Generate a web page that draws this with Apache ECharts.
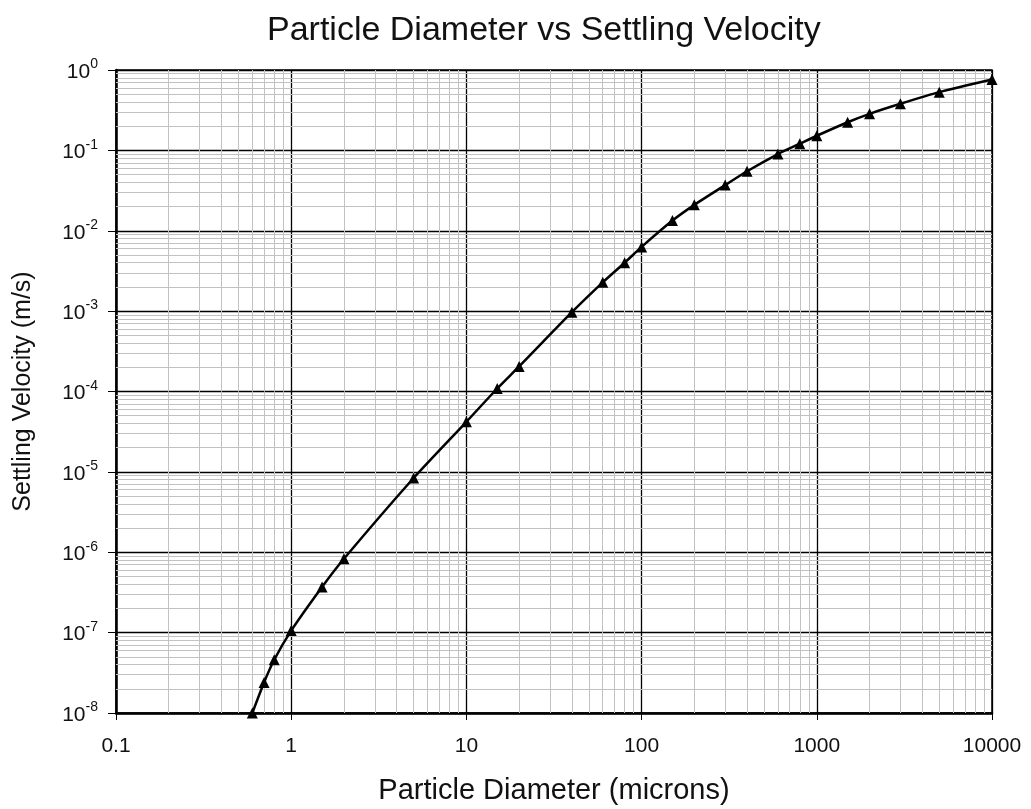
<!DOCTYPE html>
<html>
<head>
<meta charset="utf-8">
<script src="https://cdn.jsdelivr.net/npm/echarts@6/dist/echarts.min.js"></script>
<style>
  html, body { margin: 0; padding: 0; background: #fff; }
  #chart { width: 1031px; height: 809px; }
</style>
</head>
<body>
<div id="chart"></div>
<script>
// particle diameter (microns)
var diameters = [0.6, 0.7, 0.8, 1, 1.5, 2, 5, 10, 15, 20, 40, 60, 80, 100, 150, 200,
                 300, 400, 600, 800, 1000, 1500, 2000, 3000, 5000, 10000];
// settling velocity (m/s)
var velocities = [1e-8, 2.4e-8, 4.6e-8, 1.06e-7, 3.7e-7, 8.3e-7, 8.4e-6, 4.2e-5, 1.09e-4,
                  2.05e-4, 9.7e-4, 2.28e-3, 4.0e-3, 6.3e-3, 1.34e-2, 2.1e-2, 3.7e-2, 5.5e-2,
                  9.0e-2, 0.121, 0.152, 0.224, 0.285, 0.38, 0.53, 0.76];
// decade starts used for the log minor grid (2..9 x decade)
var xDecades = [0.1, 1, 10, 100, 1000];
var yDecades = [1e-8, 1e-7, 1e-6, 1e-5, 1e-4, 1e-3, 1e-2, 1e-1];

var FONT = 'Liberation Sans';

var points = diameters.map(function (d, i) { return [d, velocities[i]]; });

// minor grid lines at 2..9 of every decade (echarts' own minorSplitLine is linear in log space)
var minorLines = [];
xDecades.forEach(function (d) {
  for (var m = 2; m <= 9; m++) minorLines.push({ xAxis: +(m * d).toPrecision(3) });
});
yDecades.forEach(function (d) {
  for (var m = 2; m <= 9; m++) minorLines.push({ yAxis: +(m * d).toPrecision(3) });
});

var myChart = echarts.init(document.getElementById('chart'));
var option = {
  animation: false,
  backgroundColor: '#fff',
  title: {
    text: 'Particle Diameter vs Settling Velocity',
    left: 262,
    top: 9,
    textStyle: { fontFamily: FONT, fontSize: 34, fontWeight: 'normal', color: '#111' }
  },
  grid: {
    left: 116, right: 39, top: 70, bottom: 96,
    outerBoundsMode: 'none',
    containLabel: false,
    show: true, borderColor: '#000', borderWidth: 1.5
  },
  xAxis: {
    type: 'log',
    logBase: 10,
    min: 0.1,
    max: 10000,
    interval: 1,
    z: 3,
    name: 'Particle Diameter (microns)',
    nameLocation: 'middle',
    nameGap: 63,
    nameTextStyle: { fontFamily: FONT, fontSize: 29, color: '#111' },
    axisLine: { lineStyle: { color: '#000', width: 2.5 } },
    axisTick: { show: true, inside: false, length: 7, lineStyle: { color: '#000', width: 1 } },
    axisLabel: {
      fontFamily: FONT, fontSize: 21, color: '#111', margin: 23,
      formatter: function (v) { return String(v); }
    },
    splitLine: { show: true, lineStyle: { color: '#000', width: 1.3 } }
  },
  yAxis: {
    type: 'log',
    logBase: 10,
    min: 1e-8,
    max: 1,
    interval: 1,
    z: 3,
    name: 'Settling Velocity (m/s)',
    nameLocation: 'middle',
    nameGap: 80,
    nameTextStyle: { fontFamily: FONT, fontSize: 25, color: '#111' },
    axisLine: { lineStyle: { color: '#000', width: 2.5 } },
    axisTick: { show: true, inside: false, length: 8, lineStyle: { color: '#000', width: 1 } },
    axisLabel: {
      fontFamily: FONT, fontSize: 21, color: '#111', margin: 18,
      formatter: function (v) {
        var e = Math.round(Math.log10(v));
        return '{b|10}{s|' + e + '}';
      },
      rich: {
        b: { fontFamily: FONT, fontSize: 21, color: '#111', padding: [4, 0, 0, 0] },
        s: { fontFamily: FONT, fontSize: 14, color: '#111', padding: [0, 0, 11, 0] }
      }
    },
    splitLine: { show: true, lineStyle: { color: '#000', width: 1.3 } }
  },
  series: [{
    // carrier for the minor grid
    type: 'line',
    data: [],
    z: 1,
    silent: true,
    markLine: {
      silent: true,
      precision: 15,
      symbol: ['none', 'none'],
      label: { show: false },
      lineStyle: { color: '#c2c2c2', width: 1, type: 'solid' },
      data: minorLines
    }
  }, {
    type: 'line',
    data: points,
    smooth: 0.25,
    symbol: 'triangle',
    symbolSize: 11,
    itemStyle: { color: '#000' },
    lineStyle: { color: '#000', width: 2.5 },
    clip: false,
    z: 5
  }]
};
myChart.setOption(option);
</script>
</body>
</html>
